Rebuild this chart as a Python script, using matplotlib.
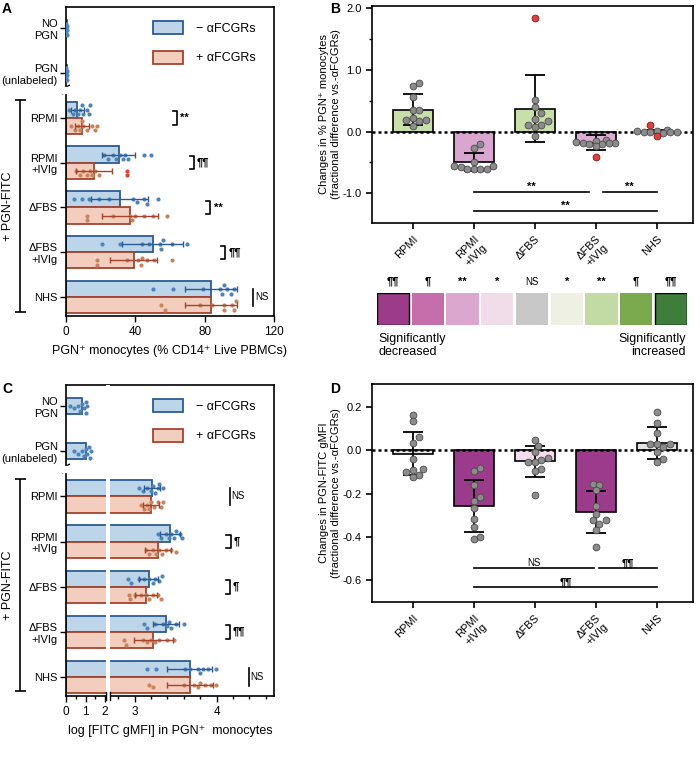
import numpy as np
import matplotlib
matplotlib.use('Agg')
import matplotlib.pyplot as plt
from matplotlib.patches import Patch, Rectangle
from matplotlib.lines import Line2D
from matplotlib.transforms import Affine2D

plt.rcParams['font.family'] = ['Liberation Sans', 'DejaVu Sans']
plt.rcParams['font.size'] = 8
plt.rcParams['axes.linewidth'] = 1.2

W, H = 700, 759

# ---------------- data ----------------
cats_ac = ['NO\nPGN', 'PGN\n(unlabeled)', 'RPMI', 'RPMI\n+IVIg', '\u0394FBS', '\u0394FBS\n+IVIg', 'NHS']
cats_bd = ['RPMI', 'RPMI\n+IVIg', '\u0394FBS', '\u0394FBS\n+IVIg', 'NHS']

# A: PGN+ monocytes (% CD14+ live PBMCs)
a_ctrl_mean = [0.3, 0.3]
a_ctrl_pts = [[0.2, 0.3, 0.1, 0.4, 0.2, 0.3], [0.2, 0.3, 0.1, 0.4, 0.3, 0.2]]
a_blue_mean = [6.6, 30.5, 31, 50, 83.7]
a_blue_sd = [4, 9.5, 16.5, 17.5, 15]
a_red_mean = [9.1, 16.3, 37, 39, 83.5]
a_red_sd = [4, 10.5, 16, 13.5, 15]
a_blue_pts = [[2, 4, 5, 7, 8, 9, 10, 12, 13, 14],
              [22, 24, 27, 29, 31, 33, 34, 36, 45, 49],
              [4.7, 9.3, 13.4, 19, 25, 38.5, 40.8, 45, 47, 53],
              [21, 31, 43.6, 48, 54, 55, 56, 61, 70],
              [50, 62, 79, 89, 91, 93, 95, 97, 90]]
a_red_pts = [[3, 5, 7, 8, 9, 10, 12, 15, 17, 18],
             [6, 8, 10, 12, 14, 15, 17, 19],
             [12, 12, 27, 37, 38, 40, 45, 50, 58],
             [18, 18, 35, 41.5, 43.5, 44, 46.5, 51, 61],
             [55, 57, 77.5, 84, 91, 91, 96, 97, 98]]
a_red_outliers = [[], [35, 35], [], [], []]
a_sig = ['**', '\u00b6\u00b6', '**', '\u00b6\u00b6', 'NS']

# C: log FITC gMFI in PGN+ monocytes
c_ctrl_mean = [0.8, 1.0]
c_ctrl_pts = [[0.2, 0.4, 0.6, 0.8, 0.9, 1.0, 1.05, 1.1, 0.7],
              [0.4, 0.6, 0.9, 1.0, 1.1, 1.2, 1.25, 1.3, 0.8]]
c_blue_mean = [3.21, 3.43, 3.17, 3.38, 3.67]
c_blue_sd = [0.1, 0.12, 0.12, 0.16, 0.27]
c_red_mean = [3.2, 3.29, 3.14, 3.23, 3.68]
c_red_sd = [0.1, 0.16, 0.13, 0.24, 0.28]
c_blue_pts = [[3.05, 3.1, 3.15, 3.2, 3.22, 3.25, 3.28, 3.3, 3.35],
              [3.28, 3.32, 3.38, 3.42, 3.45, 3.48, 3.5, 3.55, 3.58],
              [2.92, 2.96, 3.05, 3.12, 3.18, 3.22, 3.25, 3.3, 3.34],
              [3.11, 3.15, 3.25, 3.35, 3.4, 3.42, 3.45, 3.5, 3.6],
              [3.15, 3.26, 3.62, 3.68, 3.77, 3.8, 3.84, 3.9, 3.99]]
c_red_pts = [[3.08, 3.12, 3.15, 3.18, 3.2, 3.24, 3.28, 3.32, 3.35],
             [3.14, 3.18, 3.22, 3.26, 3.3, 3.33, 3.38, 3.45, 3.5],
             [2.93, 2.95, 3.0, 3.08, 3.14, 3.18, 3.22, 3.28, 3.32],
             [2.87, 2.9, 3.1, 3.15, 3.2, 3.25, 3.3, 3.4, 3.48],
             [3.18, 3.23, 3.6, 3.72, 3.77, 3.8, 3.86, 3.93, 3.99]]
c_sig = ['NS', '\u00b6', '\u00b6', '\u00b6\u00b6', 'NS']

# B: fractional change in % PGN+ monocytes
b_mean = [0.35, -0.5, 0.37, -0.18, 0.0]
b_err = [0.25, 0.145, 0.545, 0.12, 0.03]
b_pts = [[0.73, 0.79, 0.55, 0.35, 0.35, 0.22, 0.18, 0.19, 0.17, 0.09],
         [-0.21, -0.26, -0.49, -0.55, -0.61, -0.58, -0.6, -0.61, -0.55, -0.61],
         [0.51, 0.4, 0.3, 0.21, 0.11, 0.17, 0.1, 0.08, -0.08],
         [-0.13, -0.15, -0.17, -0.18, -0.18, -0.19, -0.2, -0.2, -0.24],
         [0.0, 0.01, 0.0, -0.01, 0.02, -0.02, 0.01, -0.01]]
b_outliers = [[], [], [1.84], [-0.42], [0.1, -0.07]]
b_colors = ['#c7dfa8', '#d9a6cf', '#c7dfa8', '#dcaed3', '#e6e6e6']

# D: fractional change in PGN-FITC gMFI
d_mean = [-0.015, -0.255, -0.05, -0.285, 0.035]
d_err = [0.1, 0.12, 0.072, 0.095, 0.073]
d_pts = [[0.165, 0.134, 0.06, 0.035, -0.04, -0.09, -0.085, -0.10, -0.115, -0.123],
         [-0.08, -0.097, -0.158, -0.215, -0.234, -0.266, -0.316, -0.354, -0.408, -0.4],
         [0.049, 0.02, -0.008, -0.035, -0.047, -0.055, -0.085, -0.096, -0.055, -0.205],
         [-0.154, -0.158, -0.185, -0.259, -0.292, -0.32, -0.323, -0.342, -0.37, -0.446],
         [0.177, 0.128, 0.082, 0.031, 0.027, 0.03, 0.015, -0.008, -0.04, -0.055]]
d_colors = ['#e9e6e8', '#9c3b8b', '#f3dcec', '#9c3b8b', '#e4e4e4']

# colour key
key_labels = ['\u00b6\u00b6', '\u00b6', '**', '*', 'NS', '*', '**', '\u00b6', '\u00b6\u00b6']
key_colors = ['#9c3b87', '#c66dab', '#dca7cf', '#f1dcea', '#c8c8c8', '#eef0e3', '#c2daa3', '#7aa94e', '#3f7d3b']

blue_fill, blue_edge, blue_dot = '#bdd5e8', '#2b5b95', '#4d85bb'
red_fill, red_edge, red_dot = '#f3cdbd', '#a5432c', '#c9845b'
outlier = '#e3403c'

fig = plt.figure(figsize=(W / 100, H / 100), dpi=100)
pix = Affine2D().scale(1 / W, -1 / H).translate(0, 1) + fig.transFigure


def rect(l, t, r, b):
    return [l / W, 1 - b / H, (r - l) / W, (b - t) / H]


def swarm(v_px, diam, maxoff):
    v_px = np.asarray(v_px, float)
    offs = np.zeros(len(v_px))
    placed = []
    step = diam / 2
    cands = [0.0]
    for k in range(1, int(maxoff // step) + 1):
        cands += [k * step, -k * step]
    for i in np.argsort(v_px, kind='stable'):
        best, best_d = 0.0, -1
        for c in cands:
            d = min([np.hypot(v_px[i] - pv, c - po) for pv, po in placed] or [np.inf])
            if d >= diam:
                best = c
                break
            if d > best_d:
                best, best_d = c, d
        placed.append((v_px[i], best))
        offs[i] = best
    return offs


def pline(xs, ys, lw=1.2):
    fig.add_artist(Line2D(xs, ys, transform=pix, color='black', lw=lw, solid_capstyle='butt'))


def hpanel(ax, ctrl_mean, ctrl_pts, bmean, bsd, rmean, rsd, bpts, rpts, routl, to_px, cat_px):
    h = 0.36
    ym = np.arange(2, 7)
    ax.barh(np.arange(2), ctrl_mean, height=h, color=blue_fill, edgecolor=blue_edge, lw=1.3, zorder=2)
    ax.barh(ym - h / 2, bmean, height=h, color=blue_fill, edgecolor=blue_edge, lw=1.3, zorder=2)
    ax.barh(ym + h / 2, rmean, height=h, color=red_fill, edgecolor=red_edge, lw=1.3, zorder=2)
    ax.errorbar(bmean, ym - h / 2, xerr=bsd, fmt='none', ecolor=blue_edge, elinewidth=1,
                capsize=2.5, capthick=1, zorder=4)
    ax.errorbar(rmean, ym + h / 2, xerr=rsd, fmt='none', ecolor=red_edge, elinewidth=1,
                capsize=2.5, capthick=1, zorder=4)
    for i, pts in enumerate(ctrl_pts):
        off = swarm(to_px(pts), 4.5, 7) / cat_px
        ax.scatter(pts, i + off, s=9, color=blue_dot, lw=0, zorder=3)
    for i in range(5):
        off = swarm(to_px(bpts[i]), 4.5, 6) / cat_px
        ax.scatter(bpts[i], ym[i] - h / 2 + off, s=9, color=blue_dot, lw=0, zorder=3)
        allr = list(rpts[i]) + list(routl[i])
        off = swarm(to_px(allr), 4.5, 6) / cat_px
        n = len(rpts[i])
        ax.scatter(allr[:n], ym[i] + h / 2 + off[:n], s=9, color=red_dot, lw=0, zorder=3)
        if len(routl[i]):
            ax.scatter(allr[n:], ym[i] + h / 2 + off[n:], s=9, color=outlier, lw=0, zorder=3)
    ax.set_yticks(range(7))
    ax.set_yticklabels(cats_ac, fontsize=8, multialignment='right')
    ax.set_ylim(6.42, -0.47)
    ax.tick_params(length=4, width=1, labelsize=8)
    ax.tick_params(axis='y', pad=2)
    ax.tick_params(axis='x', labelsize=8.5)


def sig_marks(ax, xs, labels, dx, tdx):
    for i, (xb, lab) in enumerate(zip(xs, labels)):
        y = i + 2
        if lab == 'NS':
            ax.plot([xb, xb], [y - 0.19, y + 0.19], color='black', lw=1.2, clip_on=False)
            ax.text(xb + tdx * 0.6, y, 'NS', fontsize=7, va='center', ha='left')
        else:
            ax.plot([xb - dx, xb, xb, xb - dx], [y - 0.15, y - 0.15, y + 0.15, y + 0.15],
                    color='black', lw=1.2, clip_on=False)
            ax.text(xb + tdx, y, lab, fontsize=8, fontweight='bold', va='center', ha='left')


def legend_ac(ax):
    hs = [Patch(facecolor=blue_fill, edgecolor=blue_edge, lw=1.3),
          Patch(facecolor=red_fill, edgecolor=red_edge, lw=1.3)]
    ax.legend(hs, ['\u2212 \u03b1FCGRs', '+ \u03b1FCGRs'], loc='upper left', bbox_to_anchor=(0.42, 0.955),
              frameon=False, fontsize=9, handlelength=2.4, handleheight=1.2, labelspacing=1.3,
              handletextpad=1.0, borderpad=0, borderaxespad=0)


def fitc_bracket(top, bot):
    pline([20, 20], [top, bot])
    pline([15, 26], [top, top])
    pline([15, 26], [bot, bot])
    fig.text(8, (top + bot) / 2, '+ PGN-FITC', transform=pix, rotation=90, ha='center', va='center', fontsize=9)


def ybreak(y):
    fig.add_artist(Rectangle((62, y - 3), 8, 6, transform=pix, color='white', zorder=10))
    pline([62, 70], [y - 1, y - 5], lw=1)
    pline([62, 70], [y + 4, y], lw=1)


# ---------------- panel A ----------------
axA = fig.add_axes(rect(66, 7, 274, 316))
hpanel(axA, a_ctrl_mean, a_ctrl_pts, a_blue_mean, a_blue_sd, a_red_mean, a_red_sd,
       a_blue_pts, a_red_pts, a_red_outliers, lambda v: np.asarray(v) * 1.717, 44.8)
axA.set_xlim(0, 120)
axA.set_xticks([0, 40, 80, 120])
axA.set_xlabel('PGN\u207a monocytes (% CD14\u207a Live PBMCs)', fontsize=9, labelpad=5)
sig_marks(axA, [64, 73.6, 83.3, 92, 108], a_sig, 2.3, 2.0)
legend_ac(axA)
fitc_bracket(100, 312)
ybreak(90)

# ---------------- panel C ----------------
brk_x = [-10, 2.05, 2.7, 10]
brk_px = [-195, 39.975, 43.975, 43.975 + 7.3 * 82]
fwd = lambda v: np.interp(v, brk_x, brk_px)
inv = lambda p: np.interp(p, brk_px, brk_x)

axC = fig.add_axes(rect(66, 385, 274, 696))
axC.set_xscale('function', functions=(fwd, inv))
hpanel(axC, c_ctrl_mean, c_ctrl_pts, c_blue_mean, c_blue_sd, c_red_mean, c_red_sd,
       c_blue_pts, c_red_pts, [[]] * 5, fwd, 45.2)
axC.set_xlim(0, 4.7)
axC.set_xticks([0, 1, 2, 3, 4])
axC.set_xticks([0.5, 1.5, 2.8, 3.2, 3.4, 3.6, 3.8, 4.2, 4.4, 4.6], minor=True)
axC.tick_params(which='minor', length=2.5, width=1)
axC.set_xlabel('log [FITC gMFI] in PGN\u207a  monocytes', fontsize=9, labelpad=5)
sig_marks(axC, [4.16, 4.17, 4.16, 4.16, 4.39], c_sig, 0.05, 0.035)
legend_ac(axC)
axC.add_patch(Rectangle((2.05, -0.03), 0.65, 1.03, transform=axC.get_xaxis_transform(),
                        color='white', clip_on=False, zorder=6, lw=0))
for xb in (2.05, 2.7):
    axC.plot([xb, xb], [-0.014, 0.013], transform=axC.get_xaxis_transform(), color='black',
             lw=1, clip_on=False, zorder=7)
fitc_bracket(479, 691)
ybreak(469)


# ---------------- panels B and D ----------------
def vpanel(ax, mean, err, pts, outl, colors, px_per):
    x = np.arange(5)
    ax.bar(x, mean, width=0.66, color=colors, edgecolor='black', lw=1.2, zorder=2)
    ax.errorbar(x, mean, yerr=err, fmt='none', ecolor='black', elinewidth=1.3,
                capsize=7, capthick=1.3, zorder=3)
    ax.axhline(0, color='black', ls=(0, (1.2, 1.2)), lw=1.8, zorder=2.5)
    for i in range(5):
        allp = list(pts[i]) + list(outl[i])
        off = swarm(np.asarray(allp) * px_per, 6.5, 22) / 61.0
        n = len(pts[i])
        ax.scatter(x[i] + off[:n], allp[:n], s=24, color='#8c8c8c', edgecolor='#4a4a4a',
                   lw=0.6, zorder=4)
        if len(outl[i]):
            ax.scatter(x[i] + off[n:], allp[n:], s=24, color=outlier, edgecolor='#7a1a1a',
                       lw=0.6, zorder=4)
    ax.set_xlim(-0.67, 4.59)
    ax.set_xticks(x)
    ax.set_xticklabels(cats_bd, rotation=45, ha='right', rotation_mode='anchor',
                       multialignment='center', fontsize=8)
    ax.tick_params(length=4, width=1.2, labelsize=8)


def sig_line(ax, x0, x1, y, lab, bold=True):
    ax.plot([x0, x1], [y, y], color='black', lw=1.2, zorder=3)
    ax.text((x0 + x1) / 2, y, lab, ha='center', va='bottom', fontsize=8 if bold else 7,
            fontweight='bold' if bold else 'normal')


axB = fig.add_axes(rect(372, 6, 693, 223))
vpanel(axB, b_mean, b_err, b_pts, b_outliers, b_colors, 62)
axB.set_ylim(-1.48, 2.03)
axB.set_yticks([-1, 0, 1, 2])
axB.set_yticklabels(['-1.0', '0.0', '1.0', '2.0'])
axB.set_yticks([-0.5, 0.5, 1.5], minor=True)
axB.tick_params(axis='y', which='minor', length=2.5, width=1)
axB.set_ylabel('Changes in % PGN\u207a monocytes\n(fractional difference vs.-\u03b1FCGRs)', fontsize=8, labelpad=1)
sig_line(axB, 1, 2.885, -0.98, '**')
sig_line(axB, 3.11, 4, -0.98, '**')
sig_line(axB, 1, 4, -1.28, '**')

axD = fig.add_axes(rect(372, 384, 693, 602))
vpanel(axD, d_mean, d_err, d_pts, [[]] * 5, d_colors, 216.5)
axD.set_ylim(-0.70, 0.306)
axD.set_yticks([-0.6, -0.4, -0.2, 0, 0.2])
axD.set_yticklabels(['-0.6', '-0.4', '-0.2', '0.0', '0.2'])
axD.set_ylabel('Changes in PGN-FITC gMFI\n(fractional difference vs.-\u03b1FCGRs)', fontsize=8, labelpad=1)
sig_line(axD, 1, 2.97, -0.545, 'NS', bold=False)
sig_line(axD, 3.05, 4, -0.545, '\u00b6\u00b6')
sig_line(axD, 1, 4, -0.633, '\u00b6\u00b6')

# colour key
axK = fig.add_axes(rect(377, 293, 687, 325))
axK.bar(range(9), 1, width=0.93, color=key_colors, align='center',
        edgecolor=['black'] + ['none'] * 7 + ['black'], lw=1)
axK.set_xlim(-0.465, 8.465)
axK.set_ylim(0, 1)
axK.axis('off')
for i, lab in enumerate(key_labels):
    axK.text(i, 1.35, lab, ha='center', va='center', fontsize=7 if lab == 'NS' else 8,
             fontweight='normal' if lab == 'NS' else 'bold')
axK.text(-0.42, -0.25, 'Significantly\ndecreased', ha='left', va='top', fontsize=9, linespacing=1.1)
axK.text(8.42, -0.25, 'Significantly\nincreased', ha='right', va='top', fontsize=9,
         multialignment='right', linespacing=1.1)

# panel letters
for lab, x, y in [('A', 2, 2), ('B', 330, 2), ('C', 2, 382), ('D', 330, 382)]:
    fig.text(x, y, lab, transform=pix, fontsize=10, fontweight='bold', ha='left', va='top')

fig.savefig('out.png', dpi=100, facecolor='white')
